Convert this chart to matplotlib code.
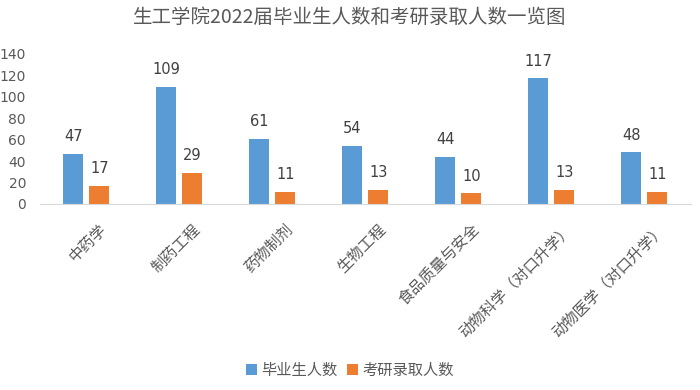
import matplotlib
matplotlib.use("Agg")
import matplotlib.pyplot as plt
import matplotlib.transforms as mtransforms
import numpy as np

plt.rcParams['font.family'] = ['Noto Sans CJK SC', 'DejaVu Sans']

title = "生工学院2022届毕业生人数和考研录取人数一览图"
categories = ["中药学", "制药工程", "药物制剂", "生物工程", "食品质量与安全",
              "动物科学（对口升学）", "动物医学（对口升学）"]
graduates = [47, 109, 61, 54, 44, 117, 48]
admitted = [17, 29, 11, 13, 10, 13, 11]
series_names = ["毕业生人数", "考研录取人数"]
yticks = [0, 20, 40, 60, 80, 100, 120, 140]

blue = "#5B9BD5"
orange = "#ED7D31"
txt = "#595959"

fig = plt.figure(figsize=(7, 3.9), dpi=100)
ax = fig.add_axes([0.057, 0.477, 0.93, 0.385])

x = np.arange(len(categories))
w = 0.215
off = 0.14
b1 = ax.bar(x - off, graduates, w, color=blue, label=series_names[0])
b2 = ax.bar(x + off, admitted, w, color=orange, label=series_names[1])

for bars in (b1, b2):
    for r in bars:
        ax.annotate(f"{int(r.get_height())}", (r.get_x() + r.get_width() / 2, r.get_height()),
                    xytext=(0, 7), textcoords="offset points", ha="center", va="bottom",
                    fontsize=10.5, color="#404040", family=['DejaVu Sans'])

ax.set_xlim(-0.5, len(categories) - 0.5)
ax.set_ylim(0, 140)
ax.set_yticks(yticks)
ax.set_yticklabels([str(v) for v in yticks], color=txt, fontsize=10, family=['DejaVu Sans'])
ax.set_xticks(x)
ax.set_xticklabels(categories, rotation=45, ha="right", rotation_mode="anchor",
                   color=txt, fontsize=11)
ax.tick_params(axis='both', length=0)
ax.tick_params(axis='x', pad=12)
ax.tick_params(axis='y', pad=10)
shift = mtransforms.ScaledTranslation(0.12, 0, fig.dpi_scale_trans)
for lab in ax.get_xticklabels():
    lab.set_transform(lab.get_transform() + shift)
for s in ["top", "right", "left"]:
    ax.spines[s].set_visible(False)
ax.spines["bottom"].set_color("#D9D9D9")

fig.text(0.5, 0.955, title, ha="center", va="center", fontsize=14, color=txt)

fig.legend(handles=[b1, b2], labels=series_names, loc="center", bbox_to_anchor=(0.5, 0.05),
           ncol=2, frameon=False, fontsize=11, handlelength=0.7, handleheight=0.7,
           handletextpad=0.3, columnspacing=0.6, labelcolor=txt)

fig.savefig("out.png", dpi=100)
